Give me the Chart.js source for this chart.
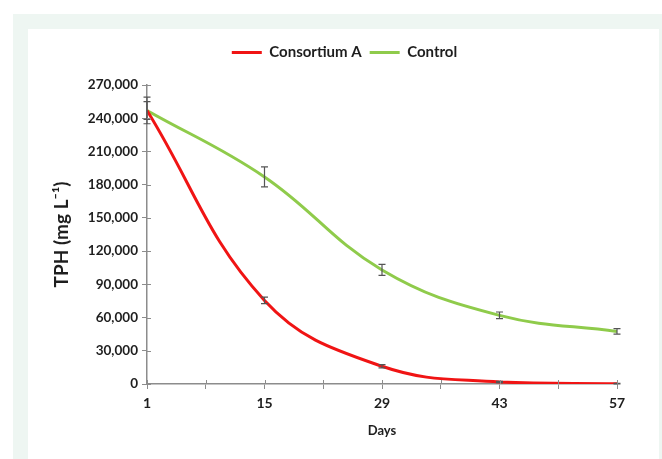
<!DOCTYPE html>
<html>
<head>
<meta charset="utf-8">
<script src="https://cdn.jsdelivr.net/npm/chart.js@4/dist/chart.umd.min.js"></script>
<style>
  html, body { margin: 0; padding: 0; background: #ffffff; }
  #outer { position: absolute; left: 13px; top: 14px; width: 649px; height: 445px; background: #eef6f2; }
  #inner { position: absolute; left: 28px; top: 29px; width: 631px; height: 430px; background: #ffffff; }
  #wrap { position: absolute; left: 28px; top: 29px; width: 631px; height: 430px; }
</style>
</head>
<body>
<div id="outer"></div>
<div id="inner"></div>
<div id="wrap"><canvas id="c" width="631" height="430"></canvas></div>
<script>
// ---- data ----
const days = [1, 15, 29, 43, 57];
const consortiumA = [247000, 75500, 16000, 1800, 300];
const consortiumAErr = [12000, 3000, 1500, 600, 300];
const control = [247000, 187000, 103000, 62000, 47500];
const controlErr = [8000, 9000, 5000, 3000, 2500];
const xTickValues = [1, 8, 15, 22, 29, 36, 43, 50, 57];
const xTickLabels = ['1', '', '15', '', '29', '', '43', '', '57'];
const seriesNames = ['Consortium A', 'Control'];

const FONT = 'Lato, "Open Sans", sans-serif';
const TEXT = '#1e1e1e';
const AXIS = '#8c8c8c';

const legendHeight = {
  id: 'legendHeight',
  beforeLayout(chart) {
    const lg = chart.legend;
    if (lg && !lg._patched) {
      const f = lg.fit.bind(lg);
      lg.fit = function () { f(); this.height = 48; };
      const d = lg.draw.bind(lg);
      lg.draw = function () {
        const ctx = this.ctx;
        ctx.save();
        ctx.translate(22, 0);
        d();
        ctx.restore();
      };
      lg._patched = true;
    }
  }
};

const innerTicks = {
  id: 'innerTicks',
  afterDraw(chart) {
    const {ctx, scales: {x, y}, chartArea} = chart;
    ctx.save();
    ctx.strokeStyle = AXIS;
    ctx.lineWidth = 1;
    ctx.beginPath();
    x.ticks.forEach(t => {
      const px = Math.round(x.getPixelForValue(t.value)) + 0.5;
      ctx.moveTo(px, chartArea.bottom); ctx.lineTo(px, chartArea.bottom - 4);
    });
    y.ticks.forEach(t => {
      const py = Math.round(y.getPixelForValue(t.value)) + 0.5;
      ctx.moveTo(chartArea.left, py); ctx.lineTo(chartArea.left + 4, py);
    });
    ctx.stroke();
    ctx.restore();
  }
};

const errorBars = {
  id: 'errorBars',
  afterDatasetsDraw(chart) {
    const {ctx, scales: {x, y}} = chart;
    const errs = [consortiumAErr, controlErr];
    ctx.save();
    ctx.strokeStyle = '#555555';
    ctx.lineWidth = 1.2;
    chart.data.datasets.forEach((ds, i) => {
      ds.data.forEach((p, j) => {
        const px = x.getPixelForValue(p.x);
        const yt = y.getPixelForValue(p.y + errs[i][j]);
        const yb = y.getPixelForValue(p.y - errs[i][j]);
        ctx.beginPath();
        ctx.moveTo(px, yt); ctx.lineTo(px, yb);
        ctx.moveTo(px - 3.5, yt); ctx.lineTo(px + 3.5, yt);
        ctx.moveTo(px - 3.5, yb); ctx.lineTo(px + 3.5, yb);
        ctx.stroke();
      });
    });
    ctx.restore();
  }
};

new Chart(document.getElementById('c'), {
  type: 'line',
  data: {
    datasets: [
      {
        label: seriesNames[0],
        data: days.map((d, i) => ({x: d, y: consortiumA[i]})),
        borderColor: '#f01414',
        backgroundColor: '#f01414',
        borderWidth: 3,
        pointRadius: 0,
        tension: 0.4,
        fill: false
      },
      {
        label: seriesNames[1],
        data: days.map((d, i) => ({x: d, y: control[i]})),
        borderColor: '#8fcb4b',
        backgroundColor: '#8fcb4b',
        borderWidth: 3,
        pointRadius: 0,
        tension: 0.4,
        fill: false
      }
    ]
  },
  options: {
    responsive: false,
    animation: false,
    layout: { padding: { top: 8, right: 42, left: 0, bottom: 0 } },
    plugins: {
      tooltip: { enabled: false },
      legend: {
        position: 'top',
        labels: {
          boxWidth: 30,
          boxHeight: 3,
          padding: 8,
          color: TEXT,
          font: { family: FONT, size: 15, weight: 'bold' },
          generateLabels(chart) {
            return chart.data.datasets.map((ds, i) => ({
              text: ds.label,
              fillStyle: ds.borderColor,
              strokeStyle: ds.borderColor,
              lineWidth: 0,
              fontColor: TEXT,
              datasetIndex: i,
              hidden: false
            }));
          }
        }
      }
    },
    scales: {
      x: {
        type: 'linear',
        min: 1,
        max: 57,
        afterBuildTicks(scale) { scale.ticks = xTickValues.map(v => ({value: v})); },
        afterFit(scale) { scale.height = 75; },
        grid: { drawOnChartArea: false, tickLength: 5, color: AXIS, tickColor: AXIS },
        border: { color: AXIS, width: 1.5 },
        ticks: {
          autoSkip: false,
          maxRotation: 0,
          padding: 6,
          color: TEXT,
          font: { family: FONT, size: 14, weight: 'bold' },
          callback(value, index) { return xTickLabels[index]; }
        },
        title: {
          display: true,
          text: 'Days',
          color: TEXT,
          font: { family: FONT, size: 13, weight: 'bold' },
          padding: { top: 4, bottom: 20 }
        }
      },
      y: {
        min: 0,
        max: 270000,
        afterFit(scale) { scale.width = 119; },
        grid: { drawOnChartArea: false, tickLength: 5, color: AXIS, tickColor: AXIS },
        border: { color: AXIS, width: 1.5 },
        ticks: {
          stepSize: 30000,
          padding: 4,
          color: TEXT,
          font: { family: FONT, size: 13.5, weight: 'bold' },
          callback(v) { return v.toLocaleString('en-US'); }
        },
        title: {
          display: true,
          text: 'TPH (mg L⁻¹)',
          color: TEXT,
          font: { family: FONT, size: 19, weight: 'bold' },
          padding: { top: 22, bottom: 0 }
        }
      }
    }
  },
  plugins: [legendHeight, errorBars, innerTicks]
});
</script>
</body>
</html>
